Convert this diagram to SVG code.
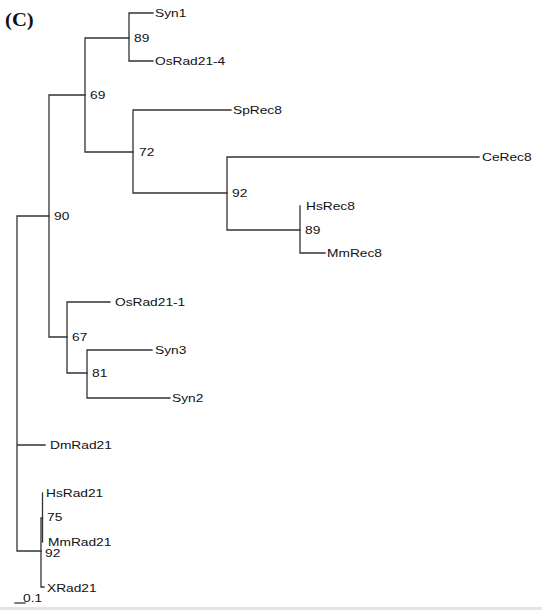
<svg xmlns="http://www.w3.org/2000/svg" width="542" height="610" viewBox="0 0 542 610">
<style>
.b{fill:none;stroke:#333;stroke-width:1.3;stroke-linecap:square}
.t{font-family:"Liberation Sans",Arial,sans-serif;font-size:11px;fill:#111}
.h{font-family:"Liberation Serif","Times New Roman",serif;font-size:18px;font-weight:bold;fill:#111}
</style>
<rect width="542" height="610" fill="#fff"/>
<rect x="0" y="607" width="542" height="3" fill="#e4e4e4"/>
<text class="h" transform="translate(5,26) scale(1.15,1)">(C)</text>
<g id="connectors">
<path class="b" d="M17,216 V551 M17,216 H49 M17,445 H45 M17,551 H41"/>
<path class="b" d="M49,95 V337 M49,95 H85 M49,337 H67"/>
<path class="b" d="M85,38 V152 M85,38 H129 M85,152 H133"/>
<path class="b" d="M129,13 V61 M129,13 H153 M129,61 H153"/>
<path class="b" d="M133,110 V193 M133,110 H231 M133,193 H227"/>
<path class="b" d="M227,157 V230 M227,157 H479 M227,230 H300"/>
<path class="b" d="M300,206 V253 M300,253 H325"/>
<path class="b" d="M67,302 V373 M67,302 H110 M67,373 H87"/>
<path class="b" d="M87,350 V398 M87,350 H152 M87,398 H170"/>
<path class="b" d="M41,518 V587 M41,518 H42.5 M41,587 H44"/>
<path class="b" d="M42.5,493 V542"/>
<path class="b" d="M15,603 H25"/>
</g>
<g id="n90"><text class="t" transform="translate(54,220) scale(1.25,1)">90</text></g>
<g id="n69"><text class="t" transform="translate(90,99) scale(1.25,1)">69</text></g>
<g id="n89a"><text class="t" transform="translate(134,42) scale(1.25,1)">89</text></g>
<g id="n72"><text class="t" transform="translate(139,156) scale(1.25,1)">72</text></g>
<g id="n92a"><text class="t" transform="translate(232,197) scale(1.25,1)">92</text></g>
<g id="n89b"><text class="t" transform="translate(305,234) scale(1.25,1)">89</text></g>
<g id="n67"><text class="t" transform="translate(72,341) scale(1.25,1)">67</text></g>
<g id="n81"><text class="t" transform="translate(92,377) scale(1.25,1)">81</text></g>
<g id="n92b"><text class="t" transform="translate(45,557) scale(1.25,1)">92</text></g>
<g id="n75"><text class="t" transform="translate(47,521) scale(1.25,1)">75</text></g>
<g id="Syn1"><text class="t" transform="translate(155,17) scale(1.25,1)">Syn1</text></g>
<g id="OsRad21-4"><text class="t" transform="translate(155,65) scale(1.25,1)">OsRad21-4</text></g>
<g id="SpRec8"><text class="t" transform="translate(233,114) scale(1.25,1)">SpRec8</text></g>
<g id="CeRec8"><text class="t" transform="translate(482,161) scale(1.25,1)">CeRec8</text></g>
<g id="HsRec8"><text class="t" transform="translate(306,210) scale(1.25,1)">HsRec8</text></g>
<g id="MmRec8"><text class="t" transform="translate(327,257) scale(1.25,1)">MmRec8</text></g>
<g id="OsRad21-1"><text class="t" transform="translate(115,306) scale(1.25,1)">OsRad21-1</text></g>
<g id="Syn3"><text class="t" transform="translate(155,354) scale(1.25,1)">Syn3</text></g>
<g id="Syn2"><text class="t" transform="translate(172,402) scale(1.25,1)">Syn2</text></g>
<g id="DmRad21"><text class="t" transform="translate(50,449) scale(1.25,1)">DmRad21</text></g>
<g id="HsRad21"><text class="t" transform="translate(46,497) scale(1.25,1)">HsRad21</text></g>
<g id="MmRad21"><text class="t" transform="translate(48,546) scale(1.25,1)">MmRad21</text></g>
<g id="XRad21"><text class="t" transform="translate(47,592) scale(1.25,1)">XRad21</text></g>
<g id="scale"><text class="t" transform="translate(23,602) scale(1.25,1)">0.1</text></g>
</svg>
